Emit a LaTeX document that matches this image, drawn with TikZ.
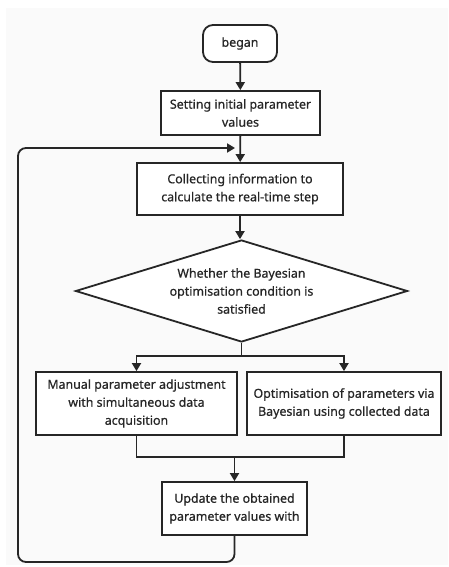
\documentclass[tikz,border=0pt]{standalone}
\usepackage{fontspec}
\setmainfont{Noto Sans}[FakeBold=0.6]
\usetikzlibrary{shapes.geometric,arrows.meta}
\definecolor{ink}{HTML}{262626}
\definecolor{panel}{HTML}{FAFAFA}
\begin{document}
\begin{tikzpicture}[x=1pt,y=-1pt,
  every node/.style={font=\fontsize{12.4}{18}\selectfont, text=ink, align=center},
  box/.style={draw=ink, line width=1.8pt, fill=white, inner sep=2pt},
  conn/.style={draw=ink, line width=1.8pt},
  arr/.style={conn, -{Triangle[length=8pt,width=9pt]}}]
\useasboundingbox (0,0) rectangle (448,567);
\fill[white] (0,0) rectangle (448,567);
\fill[panel] (6,8) rectangle (448,565);
\node[box, rounded corners=10pt, minimum width=74pt, minimum height=37pt] (began) at (240,43.5) {began};
\node[box, minimum width=159pt, minimum height=44pt] (set) at (240.5,113) {Setting initial parameter\\values};
\node[box, minimum width=206pt, minimum height=52pt] (coll) at (240,189) {Collecting information to\\calculate the real-time step};
\node[box, diamond, aspect=3.25, minimum width=332pt, minimum height=102pt, inner sep=0pt] (diam) at (241.5,291) {Whether the Bayesian\\optimisation condition is\\satisfied};
\node[box, minimum width=201pt, minimum height=63pt] (left) at (136.5,403.5) {Manual parameter adjustment\\with simultaneous data\\acquisition};
\node[box, minimum width=194pt, minimum height=63pt] (right) at (344,403.5) {Optimisation of parameters via\\Bayesian using collected data};
\node[box, minimum width=145pt, minimum height=53pt] (upd) at (234.5,508.5) {Update the obtained\\parameter values with};
\coordinate (split) at (241.5,356);
\coordinate (merge) at (234.5,457);
\coordinate (loopin) at (235,148);
\draw[arr] (began) -- (set);
\draw[arr] (set) -- (coll);
\draw[arr] (coll.south) -- (coll.south |- diam.north);
\draw[conn] (diam.south) -- (split);
\draw[arr] (split) -| (left.north);
\draw[arr] (split) -| (right.north);
\draw[conn] (left.south) |- (merge) -| (right.south);
\draw[arr] (merge) -- (upd.north);
\draw[arr, rounded corners=8pt] (upd.south) -- (234.5,562) -- (18,562) -- (18,148) -- (loopin);
\end{tikzpicture}
\end{document}
